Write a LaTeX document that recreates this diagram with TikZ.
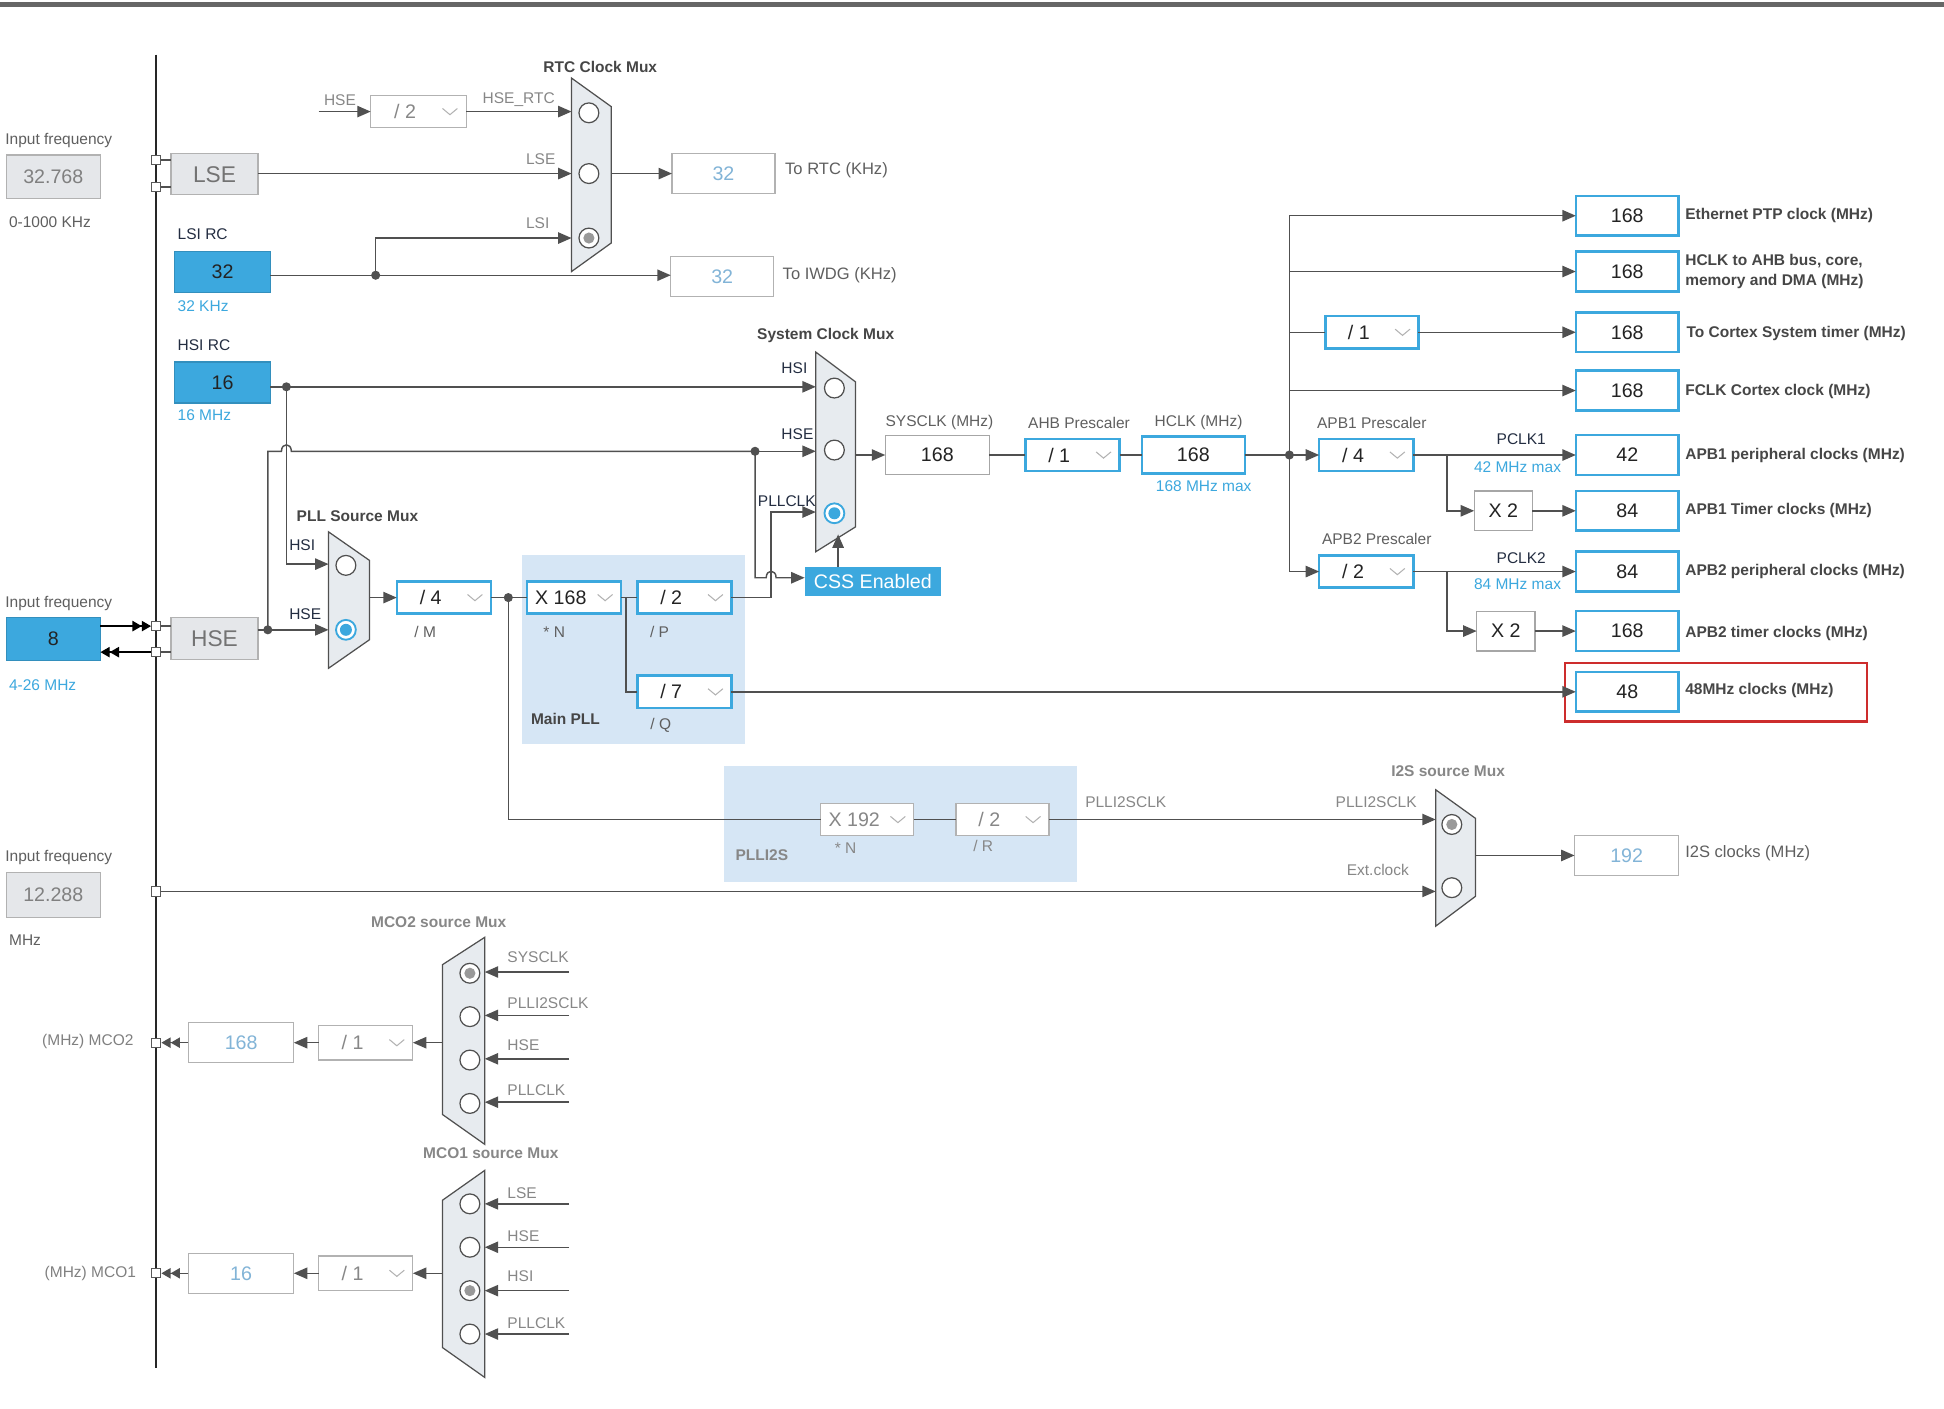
\documentclass[tikz,border=0pt]{standalone}
\usepackage{fontspec}
\setmainfont{Liberation Sans}
\usetikzlibrary{arrows.meta}
\definecolor{stblue}{RGB}{60,168,222}
\definecolor{pllbg}{RGB}{214,230,245}
\definecolor{boxgray}{RGB}{229,231,234}
\definecolor{linec}{RGB}{80,80,80}
\definecolor{lblc}{RGB}{95,95,95}
\definecolor{navy}{RGB}{35,45,65}
\definecolor{lightc}{RGB}{135,135,135}
\definecolor{txtdark}{RGB}{35,35,35}
\definecolor{dimblue}{RGB}{130,180,215}
\definecolor{muxfill}{RGB}{231,235,239}
\definecolor{titlec}{RGB}{70,70,70}
\definecolor{redbox}{RGB}{205,45,45}
\newcommand\myfs[1]{\fontsize{#1}{#1}\selectfont}
\newcommand\bx[7]{\node[#6, minimum width={(#4-#2)*0.6pt}, minimum height={(#5-#3)*0.6pt}, inner sep=0pt, outer sep=0pt] (#1) at ({(#2+#4)/2},{(#3+#5)/2}) {#7};}
\newcommand\presc[8]{%
  \bx{#1}{#2}{#3}{#4}{#5}{#6}{}%
  \node[text=#7, font=\myfs{9.5}, inner sep=0pt] (#1t) at ({#2+0.36*(#4-#2)},{(#3+#5)/2}) {#8};%
  \draw[chev] ({#2+0.83*(#4-#2)-6},{(#3+#5)/2-2.5}) -- ++(6,5) -- ++(6,-5);%
}
\tikzset{
  wire/.style={draw=linec, line width=0.7pt},
  arr/.style={wire, -{Triangle[length=6.5pt,width=5.5pt]}},
  darrk/.style={draw=black, line width=0.7pt, -{Triangle[length=4.5pt,width=5pt]Triangle[length=4.5pt,width=5pt]}},
  darrg/.style={draw=linec, line width=0.7pt, -{Triangle[length=4.5pt,width=5pt]Triangle[length=4.5pt,width=5pt]}},
  chev/.style={draw=gray!60, line width=0.5pt},
  lbl/.style={font=\myfs{7.5}, text=lblc, inner sep=0pt},
  lbld/.style={font=\myfs{7.5}, text=navy, inner sep=0pt},
  lbll/.style={font=\myfs{7.5}, text=lightc, inner sep=0pt},
  lblb/.style={font=\myfs{7.5}, text=stblue, inner sep=0pt},
  blbl/.style={font=\bfseries\myfs{7.5}, text=titlec, inner sep=0pt},
  glbl/.style={font=\bfseries\myfs{7.5}, text=lightc, inner sep=0pt},
  outl/.style={font=\bfseries\myfs{7.5}, text=titlec, inner sep=0pt},
  outg/.style={font=\myfs{8}, text=lblc, inner sep=0pt},
  inbox/.style={draw=gray!60, fill=boxgray, line width=0.6pt, text=gray, font=\myfs{9.5}},
  srcbox/.style={draw=gray!60, fill=boxgray, line width=0.6pt, text=gray!90!black, font=\myfs{11}},
  bluefill/.style={draw=stblue!85!black, fill=stblue, line width=0.6pt, text=txtdark, font=\myfs{9.5}},
  bluebox/.style={draw=stblue, fill=white, line width=1.2pt, text=txtdark, font=\myfs{9.5}},
  plainbox/.style={draw=gray!70, fill=white, line width=0.6pt, text=txtdark, font=\myfs{9.5}},
  dimbox/.style={draw=gray!60, fill=white, line width=0.6pt, text=dimblue, font=\myfs{9.5}},
  dimgray/.style={draw=gray!60, fill=white, line width=0.6pt},
  cssbox/.style={fill=stblue, text=white, font=\myfs{9.5}},
  mux/.style={draw=linec, fill=muxfill, line width=0.6pt},
  radio/.style={circle, draw=linec, fill=white, line width=0.6pt, minimum size=9.6pt, inner sep=0pt},
  radiob/.style={radio, draw=stblue, line width=0.9pt},
  pinsq/.style={draw=gray!70!black, fill=white, minimum size=4.5pt, inner sep=0pt, line width=0.5pt},
  jdot/.style={fill=linec}
}
\begin{document}
\begin{tikzpicture}[x=0.6pt,y=-0.6pt]
\fill[white] (0,0) rectangle (1568,1136);
\useasboundingbox (0,0) rectangle (1568,1136);
\fill[black!60] (0,2) rectangle (1568,6);
% shaded regions
\fill[pllbg] (421,448) rectangle (601,600);
\fill[pllbg] (584,618) rectangle (869,711);
% bus
\draw[black!85, line width=0.8pt] (126,44) -- (126,1103);

% ---------------- left inputs
\node[lbl, anchor=west] (lf1) at (4,113) {Input frequency};
\bx{lsein}{5}{125}{81}{160}{inbox}{32.768}
\node[lbl, anchor=west] (lf1r) at (7,179) {0-1000 KHz};
\node[pinsq] (plse1) at (126,129) {};
\node[pinsq] (plse2) at (126,151) {};
\bx{lse}{138}{124}{208}{157}{srcbox}{LSE}
\draw[wire] (plse1.east) -- (plse1 -| lse.west);
\draw[wire] (plse2.east) -- (plse2 -| lse.west);
\node[lbld, anchor=west] (lsil) at (143,189) {LSI RC};
\bx{lsi}{141}{203}{218}{236}{bluefill}{32}
\node[lblb, anchor=west] (lsif) at (143,247) {32 KHz};
\node[lbld, anchor=west] (hsil) at (143,278) {HSI RC};
\bx{hsi}{141}{292}{218}{325}{bluefill}{16}
\node[lblb, anchor=west] (hsif) at (143,335) {16 MHz};
\node[lbl, anchor=west] (lf2) at (4,487) {Input frequency};
\bx{hsein}{5}{498}{81}{533}{bluefill}{8}
\node[lblb, anchor=west] (hsef) at (7,553) {4-26 MHz};
\node[pinsq] (phse1) at (126,505) {};
\node[pinsq] (phse2) at (126,526) {};
\bx{hse}{138}{498}{208}{532}{srcbox}{HSE}
\draw[wire] (phse1.east) -- (phse1 -| hse.west);
\draw[wire] (phse2.east) -- (phse2 -| hse.west);
\draw[darrk] (phse1 -| hsein.east) -- (phse1.west);
\draw[darrk] (phse2.west) -- (phse2 -| hsein.east);
\node[lbl, anchor=west] (lf3) at (4,692) {Input frequency};
\bx{i2sin}{5}{704}{81}{740}{inbox}{12.288}
\node[lbl, anchor=west] (lf3r) at (7,758) {MHz};
\node[pinsq] (pext) at (126,719) {};

% ---------------- RTC
\node[blbl, anchor=west] (rtct) at (438,54) {RTC Clock Mux};
\node[lbll, anchor=west] (rtchsel) at (261,81) {HSE};
\coordinate (rtchse) at (257,90);
\presc{rtcdiv}{299}{77}{376}{103}{dimgray}{lightc}{/ 2}
\node[lbll, anchor=west] (hsertcl) at (389,80) {HSE\_RTC};
\draw[mux] (461,63) -- (493,86) -- (493,196) -- (461,219) -- cycle;
\node[radio] (rtc1) at (475,91) {};
\node[radio] (rtc2) at (475,140) {};
\node[radio] (rtc3) at (475,192) {};
\fill[gray!80] (rtc3) circle (2.7pt);
\coordinate (rtcI1) at (461,90);
\coordinate (rtcI2) at (461,140);
\coordinate (rtcI3) at (461,192);
\coordinate (rtcO) at (493,140);
\node[lbll, anchor=west] (lsel) at (424,128) {LSE};
\node[lbll, anchor=west] (lsi2l) at (424,180) {LSI};
\bx{rtcout}{542}{124}{625}{156}{dimbox}{32}
\node[outg, anchor=west] (rtcl) at (633,137) {To RTC (KHz)};
\bx{iwdg}{541}{207}{624}{239}{dimbox}{32}
\node[outg, anchor=west] (iwdgl) at (631,222) {To IWDG (KHz)};
\coordinate (jlsi) at (303,222);
\draw[arr] (rtchse) -- (rtcdiv.west);
\draw[arr] (rtcdiv.east) -- (rtcI1);
\draw[arr] (rtcI2 -| lse.east) -- (rtcI2);
\draw[arr] (rtcO) -- (rtcO -| rtcout.west);
\draw[wire] (jlsi -| lsi.east) -- (jlsi);
\draw[arr] (jlsi) -- (jlsi -| iwdg.west);
\draw[arr] (jlsi) |- (rtcI3);

% ---------------- System clock mux
\node[blbl] (sysmt) at (666,271) {System Clock Mux};
\draw[mux] (658,284) -- (690,308) -- (690,425) -- (658,445) -- cycle;
\node[radio] (sm1) at (673,313) {};
\node[radio] (sm2) at (673,363) {};
\node[radiob] (sm3) at (673,414) {};
\fill[stblue] (sm3) circle (2.9pt);
\coordinate (smI1) at (658,312);
\coordinate (smI2) at (658,364);
\coordinate (smI3) at (658,413);
\coordinate (smO) at (690,367);
\coordinate (smB) at (676,431);
\node[lbld, anchor=west] (smhsil) at (630,297) {HSI};
\node[lbld, anchor=west] (smhsel) at (630,350) {HSE};
\node[lbld, anchor=west] (smpll) at (611,404) {PLLCLK};
\bx{css}{649}{457}{759}{481}{cssbox}{CSS Enabled}
\bx{sysclk}{714}{351}{798}{383}{plainbox}{168}
\node[lbl, anchor=west] (sysl) at (714,341) {SYSCLK (MHz)};
\presc{ahb}{827}{354}{903}{380}{bluebox}{txtdark}{/ 1}
\node[lbl, anchor=west] (ahbl) at (829,341) {AHB Prescaler};
\bx{hclk}{921}{352}{1004}{382}{bluebox}{168}
\node[lbl, anchor=west] (hclkl) at (931,341) {HCLK (MHz)};
\node[lblb, anchor=west] (hclkm) at (932,392) {168 MHz max};

% ---------------- PLL source
\node[blbl, anchor=west] (pllst) at (239,416) {PLL Source Mux};
\draw[mux] (265,429) -- (298,452) -- (298,516) -- (265,539) -- cycle;
\node[radio] (pm1) at (279,456) {};
\node[radiob] (pm2) at (279,508) {};
\fill[stblue] (pm2) circle (2.9pt);
\coordinate (pmI1) at (265,455);
\coordinate (pmI2) at (265,508);
\coordinate (pmO) at (298,482);
\node[lbld, anchor=west] (pmhsi) at (233,440) {HSI};
\node[lbld, anchor=west] (pmhse) at (233,495) {HSE};
\presc{pllm}{320}{469}{396}{495}{bluebox}{txtdark}{/ 4}
\node[lbl] (pllml) at (343,510) {/ M};
\presc{plln}{425}{469}{501}{495}{bluebox}{txtdark}{X 168}
\node[lbl] (pllnl) at (447,510) {* N};
\presc{pllp}{514}{469}{590}{495}{bluebox}{txtdark}{/ 2}
\node[lbl] (pllpl) at (532,510) {/ P};
\presc{pllq}{514}{545}{590}{571}{bluebox}{txtdark}{/ 7}
\node[lbl] (pllql) at (533,585) {/ Q};
\node[blbl, anchor=west] (mainpll) at (428,580) {Main PLL};

% ---------------- PLLI2S
\node[glbl, anchor=west] (plli2sl) at (593,690) {PLLI2S};
\presc{i2sn}{662}{648}{737}{674}{dimgray}{lightc}{X 192}
\node[lbll] (i2snl) at (682,684) {* N};
\presc{i2sr}{771}{648}{846}{674}{dimgray}{lightc}{/ 2}
\node[lbll] (i2srl) at (793,682) {/ R};
\node[lbll, anchor=west] (pi2s1) at (875,647) {PLLI2SCLK};
\node[lbll, anchor=west] (pi2s2) at (1077,647) {PLLI2SCLK};
\node[lbll, anchor=west] (extl) at (1086,702) {Ext.clock};
\node[glbl] (i2smt) at (1168,622) {I2S source Mux};
\draw[mux] (1158,637) -- (1190,660) -- (1190,723) -- (1158,747) -- cycle;
\node[radio] (im1) at (1171,665) {};
\node[radio] (im2) at (1171,716) {};
\fill[gray!80] (im1) circle (2.7pt);
\coordinate (imI1) at (1158,661);
\coordinate (imI2) at (1158,719);
\coordinate (imO) at (1190,690);
\bx{i2sout}{1270}{674}{1354}{706}{dimbox}{192}
\node[outg, anchor=west] (i2soutl) at (1359,688) {I2S clocks (MHz)};

% ---------------- right column
\bx{eth}{1271}{158}{1354}{190}{bluebox}{168}
\bx{ahbbus}{1271}{203}{1354}{235}{bluebox}{168}
\presc{stdiv}{1069}{255}{1144}{281}{bluebox}{txtdark}{/ 1}
\bx{systick}{1271}{252}{1354}{284}{bluebox}{168}
\bx{fclk}{1271}{299}{1354}{331}{bluebox}{168}
\node[lbl, anchor=west] (apb1l) at (1062,341) {APB1 Prescaler};
\presc{apb1}{1064}{354}{1140}{380}{bluebox}{txtdark}{/ 4}
\bx{pclk1}{1271}{351}{1354}{383}{bluebox}{42}
\node[lbld] (pclk1l) at (1227,354) {PCLK1};
\node[lblb] (pclk1m) at (1224,377) {42 MHz max};
\bx{x2a}{1189}{396}{1236}{428}{plainbox}{X 2}
\bx{tim1}{1271}{396}{1354}{428}{bluebox}{84}
\node[lbl, anchor=west] (apb2l) at (1066,435) {APB2 Prescaler};
\presc{apb2}{1064}{448}{1140}{474}{bluebox}{txtdark}{/ 2}
\bx{pclk2}{1271}{445}{1354}{477}{bluebox}{84}
\node[lbld] (pclk2l) at (1227,450) {PCLK2};
\node[lblb] (pclk2m) at (1224,471) {84 MHz max};
\bx{x2b}{1191}{493}{1238}{525}{plainbox}{X 2}
\bx{tim2}{1271}{493}{1354}{525}{bluebox}{168}
\bx{usb}{1271}{542}{1354}{574}{bluebox}{48}
\bx{usbframe}{1262}{535}{1506}{582}{draw=redbox, line width=1.1pt}{}
\node[outl, anchor=west] (ethl) at (1359,174) {Ethernet PTP clock (MHz)};
\node[outl, anchor=west, align=left, font=\bfseries\fontsize{7.5}{9.6}\selectfont] (ahbbusl) at (1359,219) {HCLK to AHB bus, core,\\memory and DMA (MHz)};
\node[outl, anchor=west] (systickl) at (1360,269) {To Cortex System timer (MHz)};
\node[outl, anchor=west] (fclkl) at (1359,316) {FCLK Cortex clock (MHz)};
\node[outl, anchor=west] (pclk1o) at (1359,367) {APB1 peripheral clocks (MHz)};
\node[outl, anchor=west] (tim1l) at (1359,412) {APB1 Timer clocks (MHz)};
\node[outl, anchor=west] (pclk2o) at (1359,461) {APB2 peripheral clocks (MHz)};
\node[outl, anchor=west] (tim2l) at (1359,511) {APB2 timer clocks (MHz)};
\node[outl, anchor=west] (usbl) at (1359,557) {48MHz clocks (MHz)};

% ---------------- MCO2
\node[glbl, anchor=west] (mco2t) at (299,744) {MCO2 source Mux};
\draw[mux] (391,756) -- (391,923) -- (357,899) -- (357,778) -- cycle;
\node[radio] (m2r1) at (379,785) {};
\node[radio] (m2r2) at (379,820) {};
\node[radio] (m2r3) at (379,855) {};
\node[radio] (m2r4) at (379,890) {};
\fill[gray!80] (m2r1) circle (2.7pt);
\coordinate (m2a) at (459,784); \coordinate (m2ai) at (391,784);
\coordinate (m2b) at (459,819); \coordinate (m2bi) at (391,819);
\coordinate (m2c) at (459,854); \coordinate (m2ci) at (391,854);
\coordinate (m2d) at (459,889); \coordinate (m2di) at (391,889);
\node[lbll, anchor=west] (m2al) at (409,772) {SYSCLK};
\node[lbll, anchor=west] (m2bl) at (409,809) {PLLI2SCLK};
\node[lbll, anchor=west] (m2cl) at (409,843) {HSE};
\node[lbll, anchor=west] (m2dl) at (409,879) {PLLCLK};
\coordinate (m2O) at (357,841);
\presc{mco2div}{257}{827}{333}{855}{dimgray}{lightc}{/ 1}
\bx{mco2val}{152}{825}{237}{857}{dimbox}{168}
\node[pinsq] (pmco2) at (126,841) {};
\node[lbl, anchor=east, text=gray] (mco2l) at (108,840) {(MHz) MCO2};

% ---------------- MCO1
\node[glbl, anchor=west] (mco1t) at (341,930) {MCO1 source Mux};
\draw[mux] (391,944) -- (391,1111) -- (357,1087) -- (357,968) -- cycle;
\node[radio] (m1r1) at (379,971) {};
\node[radio] (m1r2) at (379,1006) {};
\node[radio] (m1r3) at (379,1041) {};
\node[radio] (m1r4) at (379,1076) {};
\fill[gray!80] (m1r3) circle (2.7pt);
\coordinate (m1a) at (459,971); \coordinate (m1ai) at (391,971);
\coordinate (m1b) at (459,1006); \coordinate (m1bi) at (391,1006);
\coordinate (m1c) at (459,1041); \coordinate (m1ci) at (391,1041);
\coordinate (m1d) at (459,1076); \coordinate (m1di) at (391,1076);
\node[lbll, anchor=west] (m1al) at (409,962) {LSE};
\node[lbll, anchor=west] (m1bl) at (409,997) {HSE};
\node[lbll, anchor=west] (m1cl) at (409,1029) {HSI};
\node[lbll, anchor=west] (m1dl) at (409,1067) {PLLCLK};
\coordinate (m1O) at (357,1027);
\presc{mco1div}{257}{1013}{333}{1041}{dimgray}{lightc}{/ 1}
\bx{mco1val}{152}{1011}{237}{1043}{dimbox}{16}
\node[pinsq] (pmco1) at (126,1027) {};
\node[lbl, anchor=east, text=gray] (mco1l) at (110,1027) {(MHz) MCO1};

% ---------------- wires
\coordinate (jhsi) at (231,312);
\draw[wire] (jhsi -| hsi.east) -- (jhsi);
\draw[arr] (jhsi) -- (smI1);
\draw[arr] (jhsi) |- (pmI1);
\coordinate (jhse) at (216,508);
\draw[wire] (jhse -| hse.east) -- (jhse);
\draw[arr] (jhse) -- (pmI2);
\coordinate (jhse2) at (609,364);
\draw[wire] (jhse) -- (216,364) -- (227,364) .. controls (227,357) and (235,357) .. (235,364) -- (jhse2);
\draw[arr] (jhse2) -- (smI2);
\coordinate (jcss) at (609,466);
\draw[arr] (jhse2) -- (jcss) -- (618,466) .. controls (618,459) and (626,459) .. (626,466) -- (jcss -| css.west);
\draw[arr] (pllp.east) -| (622,413) -- (smI3);
\draw[arr] (css.north -| smB) -- (smB);
\draw[arr] (smO) -- (smO -| sysclk.west);
\draw[wire] (sysclk.east) -- (ahb.west);
\draw[wire] (ahb.east) -- (hclk.west);
\coordinate (jh) at (1040,367);
\draw[wire] (hclk.east) -- (jh);
\draw[arr] (jh) -- (apb1.west);
\coordinate (jeth) at (1040,174);
\coordinate (jab) at (1040,219);
\coordinate (jst) at (1040,268);
\coordinate (jf) at (1040,315);
\coordinate (japb2) at (1040,461);
\draw[wire] (jeth) -- (japb2);
\draw[arr] (jeth) -- (jeth -| eth.west);
\draw[arr] (jab) -- (jab -| ahbbus.west);
\draw[wire] (jst) -- (stdiv.west);
\draw[arr] (stdiv.east) -- (systick.west);
\draw[arr] (jf) -- (fclk.west);
\draw[arr] (japb2) -- (apb2.west);
\draw[arr] (apb1.east) -- (pclk1.west);
\coordinate (b1) at (1167,367);
\draw[arr] (b1) |- (x2a.west);
\draw[arr] (x2a.east) -- (tim1.west);
\draw[arr] (apb2.east) -- (pclk2.west);
\coordinate (b2) at (1167,461);
\draw[arr] (b2) |- (x2b.west);
\draw[arr] (x2b.east) -- (tim2.west);
\draw[arr] (pllq.east) -- (usb.west);
\draw[arr] (pmO) -- (pllm.west);
\coordinate (jm) at (410,482);
\draw[wire] (pllm.east) -- (jm) -- (plln.west);
\draw[wire] (plln.east) -- (pllp.west);
\coordinate (jn) at (505,482);
\draw[wire] (jn) |- (pllq.west);
\draw[wire] (jm) |- (i2sn.west);
\draw[wire] (i2sn.east) -- (i2sr.west);
\draw[arr] (i2sr.east) -- (imI1);
\draw[arr] (imO) -- (i2sout.west);
\draw[arr] (pext.east) -- (imI2);
\draw[arr] (m2a) -- (m2ai);
\draw[arr] (m2b) -- (m2bi);
\draw[arr] (m2c) -- (m2ci);
\draw[arr] (m2d) -- (m2di);
\draw[arr] (m2O) -- (mco2div.east);
\draw[arr] (mco2div.west) -- (mco2val.east);
\draw[darrg] (mco2val.west) -- (pmco2.east);
\draw[arr] (m1a) -- (m1ai);
\draw[arr] (m1b) -- (m1bi);
\draw[arr] (m1c) -- (m1ci);
\draw[arr] (m1d) -- (m1di);
\draw[arr] (m1O) -- (mco1div.east);
\draw[arr] (mco1div.west) -- (mco1val.east);
\draw[darrg] (mco1val.west) -- (pmco1.east);

% junction dots
\fill[jdot] (jlsi) circle (2.2pt);
\fill[jdot] (jhsi) circle (2.2pt);
\fill[jdot] (jhse) circle (2.2pt);
\fill[jdot] (jhse2) circle (2.2pt);
\fill[jdot] (jh) circle (2.2pt);
\fill[jdot] (jm) circle (2.2pt);
\end{tikzpicture}
\end{document}
